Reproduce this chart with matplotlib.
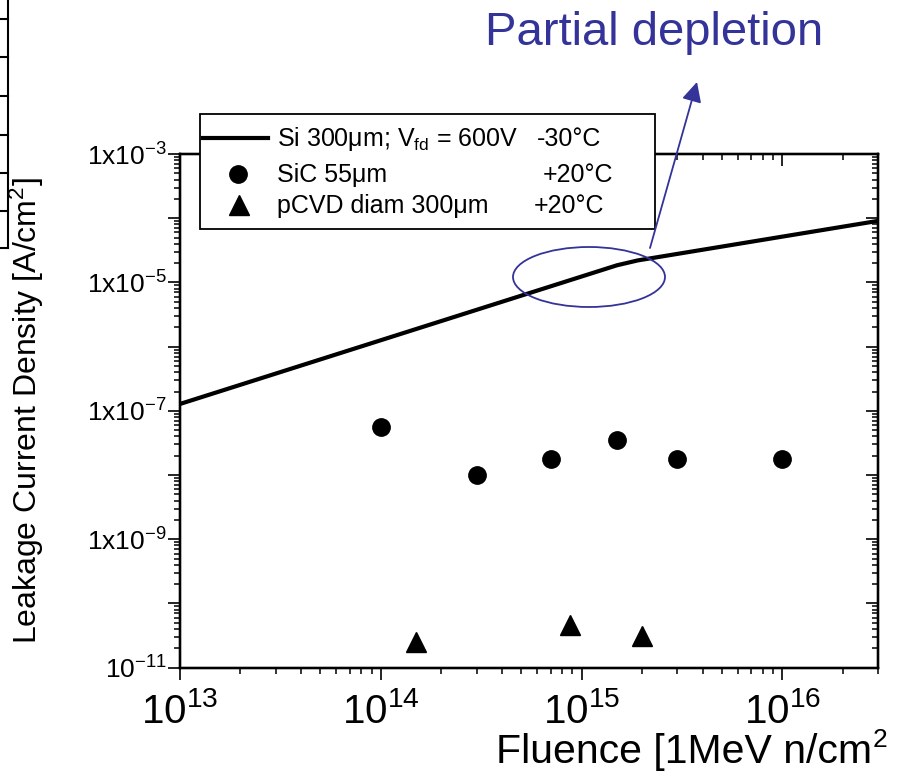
import numpy as np
import matplotlib
matplotlib.use('Agg')
import matplotlib.pyplot as plt
from matplotlib.lines import Line2D
from matplotlib.patches import Ellipse, Rectangle, FancyArrowPatch
from matplotlib.ticker import FixedLocator, FixedFormatter, NullFormatter

plt.rcParams['font.family'] = ['Liberation Sans', 'DejaVu Sans']
plt.rcParams['mathtext.default'] = 'regular'

# Si 300um, Vfd = 600V, -30C (calculated curve)
si_fluence = [1e13, 1.5e15, 1.9e15, 3e16]
si_current = [1.28e-7, 1.85e-5, 2.2e-5, 9.1e-5]

# SiC 55um, +20C
sic_fluence = [1e14, 3e14, 7e14, 1.5e15, 3e15, 1e16]
sic_current = [5.65e-8, 1e-8, 1.8e-8, 3.5e-8, 1.8e-8, 1.8e-8]

# pCVD diamond 300um, +20C
pcvd_fluence = [1.5e14, 8.7e14, 2.0e15]
pcvd_current = [2.5e-11, 4.7e-11, 3.1e-11]

xticks = [1e13, 1e14, 1e15, 1e16]
xtick_labels = ['10$^{13}$', '10$^{14}$', '10$^{15}$', '10$^{16}$']
yticks = [1e-11, 1e-10, 1e-9, 1e-8, 1e-7, 1e-6, 1e-5, 1e-4, 1e-3]
ytick_labels = ['10$^{-11}$', '', '1x10$^{-9}$', '', '1x10$^{-7}$', '',
                '1x10$^{-5}$', '', '1x10$^{-3}$']

legend_labels = ['Si 300\u03bcm; V$_{fd}$ = 600V', 'SiC 55\u03bcm', 'pCVD diam 300\u03bcm']
legend_temps = ['-30\u00b0C', '+20\u00b0C', '+20\u00b0C']

blue = '#333399'
W, H = 899, 772


def fx(px):
    return px / W


def fy(py):
    return 1 - py / H


def minor_ticks(lo, hi):
    return [k * 10.0 ** e for e in range(lo, hi) for k in range(2, 10)]


fig = plt.figure(figsize=(8.99, 7.72), dpi=100)
ax = fig.add_axes([fx(180), fy(667.7), (878.3 - 180) / W, (667.7 - 154) / H])
ax.set_xscale('log')
ax.set_yscale('log')
ax.set_xlim(1e13, 3e16)
ax.set_ylim(1e-11, 1e-3)

ax.plot(si_fluence, si_current, color='black', lw=3)
ax.plot(sic_fluence, sic_current, 'o', color='black', ms=12.5)
ax.plot(pcvd_fluence, pcvd_current, '^', color='black', ms=14)

# ticks: outward on left/bottom, inward on the mirrored right/top axes
axr = ax.twinx()
axt = ax.twiny()
for a in (ax, axr, axt):
    a.set_xscale('log')
    a.set_yscale('log')
    a.set_xlim(1e13, 3e16)
    a.set_ylim(1e-11, 1e-3)
    for s in a.spines.values():
        s.set_linewidth(1.6)
    a.xaxis.set_major_locator(FixedLocator(xticks))
    a.xaxis.set_minor_locator(FixedLocator(minor_ticks(13, 17)))
    a.yaxis.set_major_locator(FixedLocator(yticks))
    a.yaxis.set_minor_locator(FixedLocator(minor_ticks(-11, -3)))
    a.xaxis.set_minor_formatter(NullFormatter())
    a.yaxis.set_minor_formatter(NullFormatter())

ax.xaxis.set_major_formatter(FixedFormatter(xtick_labels))
ax.yaxis.set_major_formatter(FixedFormatter(ytick_labels))
ax.tick_params(which='major', direction='out', length=8.5, width=1.2)
ax.tick_params(which='minor', direction='out', length=4.5, width=1.1)
ax.tick_params(axis='x', labelsize=29, pad=9)
ax.tick_params(axis='y', labelsize=19, pad=1)
for a in (axr, axt):
    a.tick_params(which='major', direction='in', length=8.5, width=1.2,
                  labelright=False, labeltop=False)
    a.tick_params(which='minor', direction='in', length=4.5, width=1.1)

ax.set_ylabel('Leakage Current Density [A/cm$^2$]', fontsize=23, va='center')
ax.yaxis.set_label_coords((27 - 180) / 698.3, 0.5)
# x label runs off the right border of the picture; superscript kept as its own text
fig.text(fx(872), fy(763), 'Fluence [1MeV n/cm', ha='right', va='baseline', fontsize=29.5)
fig.text(fx(873), fy(747), '2', ha='left', va='baseline', fontsize=19)

# legend box drawn above the axes
fig.add_artist(Rectangle((fx(200), fy(229)), 455 / W, 115 / H, transform=fig.transFigure,
                         facecolor='white', edgecolor='black', lw=1.3, zorder=5))
fig.add_artist(Line2D([fx(203), fx(268)], [fy(137.7), fy(137.7)], color='black', lw=3, zorder=6))
fig.add_artist(Line2D([fx(238)], [fy(174)], marker='o', color='black', ms=12.5, zorder=6))
fig.add_artist(Line2D([fx(239)], [fy(205)], marker='^', color='black', ms=14, zorder=6))
for lab, temp, yb, xt in zip(legend_labels, legend_temps, [146, 182, 213], [537, 543, 534]):
    fig.text(fx(277), fy(yb), lab, fontsize=18, va='baseline', zorder=7)
    fig.text(fx(xt), fy(yb), temp, fontsize=18, va='baseline', zorder=7)

# partial depletion annotation
fig.add_artist(Ellipse((fx(589), fy(277)), 152 / W, 60 / H, transform=fig.transFigure,
                       fill=False, edgecolor=blue, lw=1.3, zorder=8))
fig.add_artist(FancyArrowPatch((fx(650), fy(248)), (fx(697), fy(82)), transform=fig.transFigure,
                               arrowstyle='-|>', mutation_scale=30, shrinkA=0, shrinkB=0,
                               color=blue, lw=1.3, zorder=8))
fig.text(fx(485), fy(45), 'Partial depletion', color=blue, fontsize=34, va='baseline')

# edge of the neighbouring table on the left border
fig.add_artist(Line2D([fx(7.5), fx(7.5)], [fy(0), fy(248)], color='black', lw=1.5))
for yl in [19, 57, 96, 135, 173, 211, 248]:
    fig.add_artist(Line2D([fx(0), fx(7.5)], [fy(yl), fy(yl)], color='black', lw=1.5))

fig.savefig('out.png', dpi=100)
